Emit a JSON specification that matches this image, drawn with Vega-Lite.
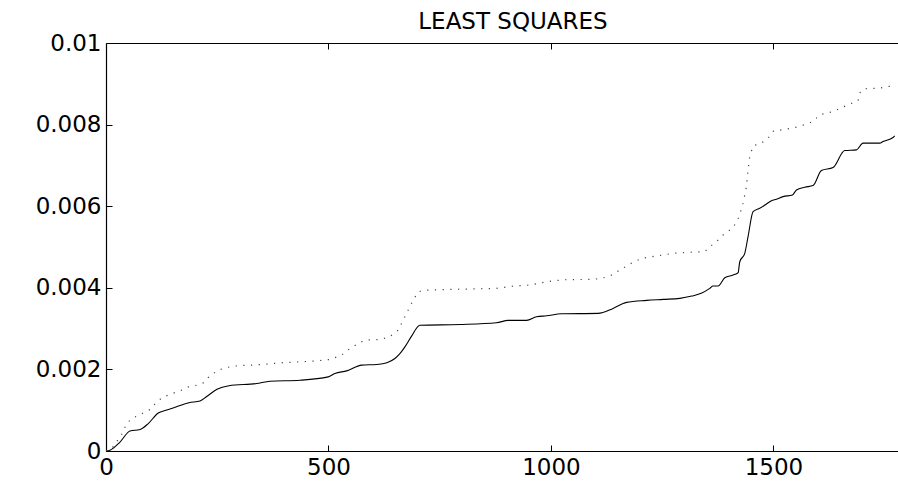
{
  "$schema": "https://vega.github.io/schema/vega-lite/v6.json",
  "width": 792,
  "height": 408,
  "autosize": "none",
  "padding": {"left": 106, "top": 43, "right": 0, "bottom": 32},
  "background": "white",
  "title": {"text": "LEAST SQUARES", "font": "DejaVu Sans", "fontSize": 23, "fontWeight": "normal", "color": "black", "baseline": "alphabetic", "offset": 0, "frame": "group", "dx": 11, "dy": 20},
  "config": {
    "view": {"stroke": null},
    "axis": {"domainColor": "black", "domainWidth": 1.2, "tickColor": "black", "tickWidth": 1, "tickSize": -6, "labelFont": "DejaVu Sans", "labelFontSize": 23, "labelColor": "black", "grid": false, "title": null, "labelFlush": false, "labelOverlap": false}
  },
  "datasets": {
    "solid": [
      {"x": 0, "y": 0}, {"x": 9, "y": 0.00002}, {"x": 31.5, "y": 0.00022}, {"x": 53.9, "y": 0.00049}, {"x": 76.4, "y": 0.000525},
      {"x": 95, "y": 0.000673}, {"x": 117.5, "y": 0.000933}, {"x": 134.8, "y": 0.000999}, {"x": 157.3, "y": 0.00108}, {"x": 186.5, "y": 0.001183},
      {"x": 211.2, "y": 0.001225}, {"x": 226.2, "y": 0.001335}, {"x": 249.4, "y": 0.001514}, {"x": 276.3, "y": 0.0016}, {"x": 338.6, "y": 0.001654},
      {"x": 368.5, "y": 0.001711}, {"x": 435.9, "y": 0.001735}, {"x": 499.4, "y": 0.001816}, {"x": 514.5, "y": 0.0019}, {"x": 540.8, "y": 0.001964},
      {"x": 574.5, "y": 0.002104}, {"x": 608.2, "y": 0.002121}, {"x": 631.3, "y": 0.002165}, {"x": 649.3, "y": 0.002268}, {"x": 660.5, "y": 0.002386},
      {"x": 671.8, "y": 0.002553}, {"x": 686.8, "y": 0.002815}, {"x": 705.5, "y": 0.003081}, {"x": 795.3, "y": 0.0031}, {"x": 877.8, "y": 0.003142},
      {"x": 903.9, "y": 0.003201}, {"x": 945.2, "y": 0.003201}, {"x": 967.6, "y": 0.003289}, {"x": 990.1, "y": 0.003314}, {"x": 1023.8, "y": 0.003363},
      {"x": 1106, "y": 0.003373}, {"x": 1139.7, "y": 0.003495}, {"x": 1169.8, "y": 0.003643}, {"x": 1214.8, "y": 0.003692}, {"x": 1252.1, "y": 0.003716},
      {"x": 1289.6, "y": 0.003741}, {"x": 1316.6, "y": 0.003797}, {"x": 1339, "y": 0.003871}, {"x": 1357, "y": 0.003986}, {"x": 1364.4, "y": 0.004043},
      {"x": 1375.6, "y": 0.004043}, {"x": 1390.7, "y": 0.004246}, {"x": 1409.3, "y": 0.004313}, {"x": 1420.6, "y": 0.004369}, {"x": 1424.4, "y": 0.004639},
      {"x": 1435.6, "y": 0.004845}, {"x": 1443, "y": 0.005253}, {"x": 1454.3, "y": 0.005866}, {"x": 1469.3, "y": 0.00595}, {"x": 1484.4, "y": 0.006055},
      {"x": 1495.6, "y": 0.006136}, {"x": 1506.9, "y": 0.006171}, {"x": 1521.7, "y": 0.006235}, {"x": 1542.8, "y": 0.006276}, {"x": 1551.8, "y": 0.006399},
      {"x": 1570.4, "y": 0.006465}, {"x": 1589.1, "y": 0.006505}, {"x": 1607.9, "y": 0.006873}, {"x": 1634, "y": 0.006947}, {"x": 1660.3, "y": 0.007364},
      {"x": 1686.6, "y": 0.007381}, {"x": 1701.4, "y": 0.007545}, {"x": 1738.9, "y": 0.007545}, {"x": 1746.3, "y": 0.007585}, {"x": 1768.8, "y": 0.007683},
      {"x": 1772.6, "y": 0.007725}
    ],
    "dotted": [
      {"x": 0, "y": 0}, {"x": 12.8, "y": 0.000059}, {"x": 27.6, "y": 0.000287}, {"x": 35.3, "y": 0.00041}, {"x": 46.5, "y": 0.000673},
      {"x": 57.7, "y": 0.000795}, {"x": 69, "y": 0.000852}, {"x": 83.8, "y": 0.000933}, {"x": 98.9, "y": 0.001016}, {"x": 113.9, "y": 0.001203},
      {"x": 128.7, "y": 0.001325}, {"x": 143.8, "y": 0.001384}, {"x": 158.8, "y": 0.001448}, {"x": 173.7, "y": 0.001507}, {"x": 184.9, "y": 0.001571},
      {"x": 203.8, "y": 0.001613}, {"x": 218.6, "y": 0.001669}, {"x": 226.2, "y": 0.001777}, {"x": 237.5, "y": 0.001858}, {"x": 248.7, "y": 0.001964},
      {"x": 267.4, "y": 0.002037}, {"x": 286, "y": 0.002079}, {"x": 304.9, "y": 0.002096}, {"x": 323.5, "y": 0.002104}, {"x": 361, "y": 0.002128},
      {"x": 390.9, "y": 0.00216}, {"x": 435.9, "y": 0.002185}, {"x": 473.4, "y": 0.002209}, {"x": 503.3, "y": 0.002243}, {"x": 529.5, "y": 0.002349},
      {"x": 540.8, "y": 0.002455}, {"x": 566.8, "y": 0.002636}, {"x": 581.9, "y": 0.002717}, {"x": 615.6, "y": 0.002734}, {"x": 634.2, "y": 0.002783},
      {"x": 645.5, "y": 0.002864}, {"x": 656.7, "y": 0.002963}, {"x": 667.9, "y": 0.003208}, {"x": 679.2, "y": 0.003454}, {"x": 690.4, "y": 0.003699},
      {"x": 701.6, "y": 0.003903}, {"x": 720.5, "y": 0.003944}, {"x": 780.3, "y": 0.003962}, {"x": 840.3, "y": 0.003976}, {"x": 877.8, "y": 0.003986},
      {"x": 915.1, "y": 0.004043}, {"x": 952.6, "y": 0.004067}, {"x": 990.1, "y": 0.004148}, {"x": 1027.4, "y": 0.004197}, {"x": 1094.8, "y": 0.004207},
      {"x": 1113.7, "y": 0.004232}, {"x": 1132.3, "y": 0.004288}, {"x": 1154.8, "y": 0.004435}, {"x": 1177.3, "y": 0.004583}, {"x": 1203.6, "y": 0.004723},
      {"x": 1237.3, "y": 0.004779}, {"x": 1274.6, "y": 0.004845}, {"x": 1312.1, "y": 0.00487}, {"x": 1345.8, "y": 0.004885}, {"x": 1357, "y": 0.005007},
      {"x": 1372.1, "y": 0.00513}, {"x": 1386.9, "y": 0.005295}, {"x": 1409.4, "y": 0.005474}, {"x": 1422.8, "y": 0.005744}, {"x": 1431.8, "y": 0.006073},
      {"x": 1439.4, "y": 0.00648}, {"x": 1443, "y": 0.00689}, {"x": 1446.8, "y": 0.007216}, {"x": 1454.3, "y": 0.007479}, {"x": 1473.1, "y": 0.007545},
      {"x": 1488, "y": 0.007668}, {"x": 1500.8, "y": 0.007855}, {"x": 1521.7, "y": 0.007872}, {"x": 1551.8, "y": 0.007938}, {"x": 1574.3, "y": 0.008012},
      {"x": 1589.1, "y": 0.008076}, {"x": 1604.1, "y": 0.00824}, {"x": 1634, "y": 0.008321}, {"x": 1671.5, "y": 0.008503}, {"x": 1690.2, "y": 0.008584},
      {"x": 1695.6, "y": 0.008812}, {"x": 1705.2, "y": 0.008878}, {"x": 1738.9, "y": 0.008895}, {"x": 1757.6, "y": 0.008935}, {"x": 1772, "y": 0.00895}
    ]
  },
  "layer": [
    {
      "data": {"name": "solid"},
      "mark": {"type": "line", "color": "black", "strokeWidth": 1.1, "interpolate": "monotone"},
      "encoding": {
        "x": {"field": "x", "type": "quantitative", "scale": {"domain": [0, 1780], "nice": false, "zero": false},
              "axis": {"orient": "bottom", "values": [0, 500, 1000, 1500], "format": "d", "labelPadding": 11}},
        "y": {"field": "y", "type": "quantitative", "scale": {"domain": [0, 0.01], "nice": false},
              "axis": {"orient": "left", "values": [0, 0.002, 0.004, 0.006, 0.008, 0.01], "format": "~g", "labelPadding": 11}}
      }
    },
    {
      "data": {"name": "dotted"},
      "mark": {"type": "line", "color": "#444", "strokeWidth": 1.2, "strokeDash": [1.2, 6.5]},
      "encoding": {
        "x": {"field": "x", "type": "quantitative", "scale": {"domain": [0, 1780], "nice": false, "zero": false},
              "axis": {"orient": "top", "values": [500, 1000, 1500], "labels": false}},
        "y": {"field": "y", "type": "quantitative", "scale": {"domain": [0, 0.01], "nice": false},
              "axis": {"orient": "left", "values": [0, 0.002, 0.004, 0.006, 0.008, 0.01], "format": "~g", "labelPadding": 11}}
      }
    }
  ],
  "resolve": {"axis": {"x": "independent"}}
}
